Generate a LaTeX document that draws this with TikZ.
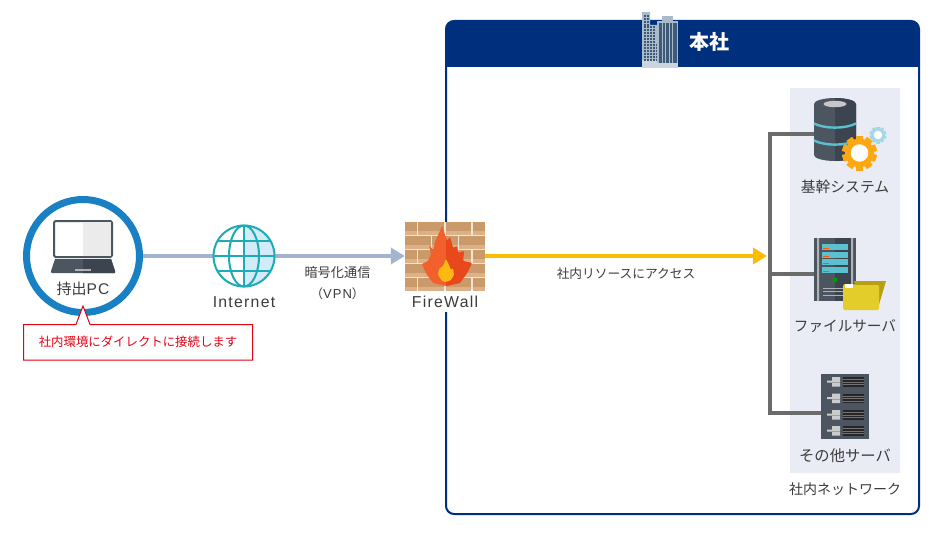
\documentclass[tikz,border=0pt]{standalone}
\usepackage{fontspec}
\setmainfont{Noto Sans CJK JP}
\newfontfamily\latinfont[LetterSpace=8]{Liberation Sans}
\usetikzlibrary{arrows.meta,positioning,calc}
\definecolor{hqblue}{HTML}{002F7E}
\definecolor{pcblue}{HTML}{1A80C4}
\definecolor{linkblue}{HTML}{A2B4D0}
\definecolor{linkyellow}{HTML}{FBBC05}
\definecolor{busgray}{HTML}{6B6B6B}
\definecolor{panel}{HTML}{E9ECF5}
\definecolor{darkmetal}{HTML}{4B5661}
\definecolor{darkmetalb}{HTML}{3C444F}
\definecolor{teal}{HTML}{1CABB7}
\definecolor{globefill}{HTML}{D3EBF8}
\definecolor{slot}{HTML}{5CC0CF}
\definecolor{brick}{HTML}{CB9A6B}
\definecolor{bricklight}{HTML}{DBB18A}
\definecolor{brickgap}{HTML}{F0E4D6}
\definecolor{flameL}{HTML}{F2602B}
\definecolor{flameR}{HTML}{E9471C}
\definecolor{flameY}{HTML}{FDB913}
\definecolor{gearamber}{HTML}{FCA813}
\definecolor{gearblue}{HTML}{A6D7E8}
\definecolor{folderback}{HTML}{B8A012}
\definecolor{folderfront}{HTML}{E2CD2B}
\definecolor{alertred}{HTML}{E60012}
\definecolor{labelgray}{HTML}{3C3C3C}
\definecolor{towerframe}{HTML}{A9BBCB}
\definecolor{towerdark}{HTML}{3F5A76}
\definecolor{towerbase}{HTML}{CBD5DE}
\tikzset{
	lbl/.style={text=labelgray,font=\fontsize{#1}{#1}\selectfont,inner sep=0pt},
	lbl/.default=14.6,
	icon/.style={inner sep=0pt,minimum width=#1},
	linkline/.style={line width=4pt,linkblue,-{Triangle[length=14pt,width=16pt]}},
	yellowline/.style={line width=4pt,linkyellow,-{Triangle[length=14pt,width=16pt]},shorten >=3pt},
	busline/.style={line width=4pt,busgray,line join=miter}
}
\newcommand{\geartooth}[5]{
	\foreach \a in {0,36,...,324}
		\fill[#4,shift={(#1,#2)},rotate=\a] (-0.2*#3,-1*#3) rectangle (0.2*#3,-0.72*#3);
	\fill[#4] (#1,#2) circle (0.82*#3);
	\fill[#5] (#1,#2) circle (0.5*#3);
}
\def\flamepath{(442.3,225.7) -- (435,242) -- (433,250) -- (429,245) -- (431,254) -- (428,261) -- (421.7,264) -- (427,275) -- (433,283) -- (446,286) -- (460,283) -- (467,273) -- (472,263) -- (463,261) -- (464,251) -- (458,253) -- (457,246) -- (453,248) -- (450,237) -- (447,241) -- (445,235) -- cycle}
\begin{document}
\begin{tikzpicture}[x=1pt,y=-1pt]
	\useasboundingbox (0,0) rectangle (940,535);
	\fill[white] (0,0) rectangle (940,535);

	\node[draw=hqblue,line width=2pt,rounded corners=8pt,minimum width=473pt,minimum height=493pt,inner sep=0pt] (hq) at (682.5,267.5) {};
	\fill[hqblue] (446,67) [rounded corners=8pt] -- (446,21) -- (919,21) [sharp corners] -- (919,67) -- cycle;
	\node[text=white,font=\bfseries\fontsize{20}{20}\selectfont,inner sep=0pt] (hqname) at (709,42) {本社};

	\fill[panel] (790,88) rectangle (900,473);

	\node[circle,draw=pcblue,fill=white,line width=7pt,minimum size=113pt,inner sep=0pt] (pc) at (83,256) {};
	\node[icon=62pt,minimum height=62pt] (globe) at (244,256) {};
	\node[fill=white,minimum width=84pt,minimum height=90pt,inner sep=0pt] (fwpatch) at (445,267) {};
	\node[icon=80pt,minimum height=67pt] (fw) at (445,256) {};
	\node[icon=42pt,minimum height=63pt] (db) at (835,129.5) {};
	\node[icon=42pt,minimum height=63pt] (fs) at (835,269.5) {};
	\node[icon=48pt,minimum height=65pt] (other) at (845,406.5) {};
	\coordinate (bus) at (770,256);

	\draw[linkblue,line width=4pt] (pc) -- (globe);
	\draw[linkline] (globe) -- (fw.west);
	\draw[yellowline] (fw.east) -- (bus);
	\draw[busline] (db.west|-0,134) -| (bus) |- (other.west|-0,413);
	\draw[busline] (fs.west|-0,274) -- (bus|-0,274);

	% laptop
	\draw[darkmetal,fill=white,line width=2pt,rounded corners=1.5pt] (54,221) rectangle (112,257);
	\fill[black!8] (83,222) rectangle (111,256);
	\fill[darkmetal] (55,259) -- (111,259) -- (115,271) [rounded corners=1pt] -- (115,273) -- (51,273) -- (51,271) [sharp corners] -- cycle;
	\fill[darkmetalb] (83,259) -- (111,259) -- (115,271) -- (115,273) -- (83,273) -- cycle;
	\fill[black!30] (75,269) rectangle (91,271);
	\node[lbl=15] (pclabel) at (83,289) {持出{\latinfont\fontsize{15.5}{15.5}\selectfont PC}};

	% balloon
	\draw[alertred,fill=white,line width=1pt] (23.5,324.5) -- (76,324.5) -- (83,306) -- (90,324.5) -- (252.5,324.5) -- (252.5,360) -- (23.5,360) -- cycle;
	\node[lbl=12.4,text=alertred] (pcnote) at (138,342) {社内環境にダイレクトに接続します};

	% globe
	\fill[white] (globe) circle (31pt);
	\begin{scope}
		\clip (244,224) rectangle (277,288);
		\fill[globefill] (globe) circle (31pt);
	\end{scope}
	\begin{scope}[teal,line width=2pt]
		\draw (globe) circle (30.5pt);
		\draw (globe) ellipse (15pt and 30.5pt);
		\draw (globe.center) ++(0,-30.5) -- ++(0,61);
		\draw (globe.center) ++(-30.5,0) -- ++(61,0);
		\draw (globe.center) ++(-26,-15) -- ++(52,0);
		\draw (globe.center) ++(-26,15) -- ++(52,0);
	\end{scope}
	\node[lbl] (inet) at (244,302) {\latinfont\fontsize{15.8}{15.8}\selectfont Internet};

	\node[lbl=13.2] (vpn1) at (337.5,273) {暗号化通信};
	\node[lbl=12.5] (vpn2) at (337.5,294) {（{\latinfont\fontsize{13}{13}\selectfont VPN}）};

	% firewall
	\fill[brickgap] (405,222) rectangle (485,290);
	\foreach \y in {222,250,278}{
		\foreach \l/\r in {405/417,418/444,446/471,473/485}{
			\fill[brick] (\l,\y) rectangle (\r,\y+12.5);
			\fill[bricklight] (\l,\y+9) rectangle (\r,\y+12.5);
		}
	}
	\foreach \y in {236,264}{
		\foreach \l/\r in {405/431,432/458,459/485}{
			\fill[brick] (\l,\y) rectangle (\r,\y+12.5);
			\fill[bricklight] (\l,\y+9) rectangle (\r,\y+12.5);
		}
	}
	\fill[flameL,rounded corners=1pt] \flamepath;
	\begin{scope}
		\clip (446,222) rectangle (480,290);
		\fill[flameR,rounded corners=1pt] \flamepath;
	\end{scope}
	\fill[flameY,rounded corners=1pt] (446,259) -- (443,266) -- (439,269) -- (438,275) -- (442,281) -- (446,282) -- (451,280) -- (454,275) -- (453,268) -- (451,270) -- (449,265) -- cycle;
	\node[lbl] (fwlabel) at (445,302) {\latinfont\fontsize{15.8}{15.8}\selectfont FireWall};

	\node[lbl=12.7] (access) at (626,274) {社内リソースにアクセス};

	% database
	\fill[darkmetal] (814,104) arc[start angle=180,end angle=0,x radius=21pt,y radius=6pt] -- (856,155) arc[start angle=0,end angle=-180,x radius=21pt,y radius=6pt] -- cycle;
	\begin{scope}
		\clip (835,90) rectangle (860,165);
		\fill[darkmetalb] (814,104) arc[start angle=180,end angle=0,x radius=21pt,y radius=6pt] -- (856,155) arc[start angle=0,end angle=-180,x radius=21pt,y radius=6pt] -- cycle;
	\end{scope}
	\fill[black!22] (835,104) ellipse (11.5pt and 3.2pt);
	\draw[slot,line width=2.4pt] (814,123.5) .. controls (825,129) and (845,129) .. (856,123.5);
	\draw[slot,line width=2.4pt] (814,140.5) .. controls (825,146) and (845,146) .. (856,140.5);
	\geartooth{878}{135}{8.5}{gearblue}{white}
	\geartooth{859.5}{153}{17.5}{gearamber}{white}
	\node[lbl=14.8] (dblabel) at (845,187) {基幹システム};

	% file server
	\fill[darkmetal] (814,238) rectangle (856,301);
	\fill[darkmetalb] (835,238) rectangle (851,301);
	\fill[black!30] (817,238) rectangle (819,301) (851,238) rectangle (853,301);
	\foreach \y in {244,251.5,259,267}{
		\fill[slot] (822,\y) rectangle (848,\y+6);
		\fill[orange!70!red] (823,\y+4) rectangle (829,\y+5);
	}
	\fill[green!60!black] (835,280) circle (2.5pt);
	\foreach \y in {288,291,295}
		\fill[black!30] (823,\y) rectangle (847,\y+1.2);
	\fill[folderback] (854,281) -- (886,281) -- (878,308) -- (860,308) -- cycle;
	\fill[folderfront,rounded corners=1.5pt] (843,284) -- (853,284) -- (856,285) -- (879,285) -- (879,310) -- (843,310) -- cycle;
	\fill[white] (845,284) rectangle (853,288);
	\node[lbl] (fslabel) at (845,326) {ファイルサーバ};

	% other server
	\fill[darkmetal] (821,374) rectangle (869,439);
	\foreach \y in {377,393.5,410,426}{
		\fill[black!85] (843,\y) rectangle (864,\y+9.5);
		\foreach \d in {2,4.5,7}
			\fill[black!55] (843,\y+\d) rectangle (864,\y+\d+0.5);
		\fill[black!20] (832,\y) rectangle (840,\y+3.5) (827,\y+3.5) rectangle (840,\y+5.5) (832,\y+6) rectangle (840,\y+9.5);
	}
	\node[lbl=15.3] (otherlabel) at (845,456) {その他サーバ};
	\node[lbl=14] (netlabel) at (845,489) {社内ネットワーク};

	% building
	\fill[towerframe] (642,12) rectangle (650,25) (642,25) rectangle (657,43) (642,43) rectangle (661,61);
	\fill[towerbase] (642,60) rectangle (661,68);
	\foreach \y in {15,18,...,24}
		\foreach \x in {643.5,646.5}
			\fill[towerdark] (\x,\y) rectangle (\x+2.2,\y+2.2);
	\foreach \y in {26,29,...,41}
		\foreach \x in {643.5,646.5,...,653}
			\fill[towerdark] (\x,\y) rectangle (\x+2.2,\y+2.2);
	\foreach \y in {44,47,...,59}
		\foreach \x in {643.5,646.5,...,658}
			\fill[towerdark] (\x,\y) rectangle (\x+2.2,\y+2.2);
	\fill[towerframe] (662,16) rectangle (673,21);
	\fill[towerframe] (657,21) rectangle (678,68);
	\fill[towerbase] (657,63) rectangle (678,68);
	\fill[towerdark] (659,23) rectangle (677,63);
	\foreach \x in {661.5,665,668.5,672}
		\fill[towerframe] (\x,23) rectangle (\x+1,63);
\end{tikzpicture}
\end{document}
